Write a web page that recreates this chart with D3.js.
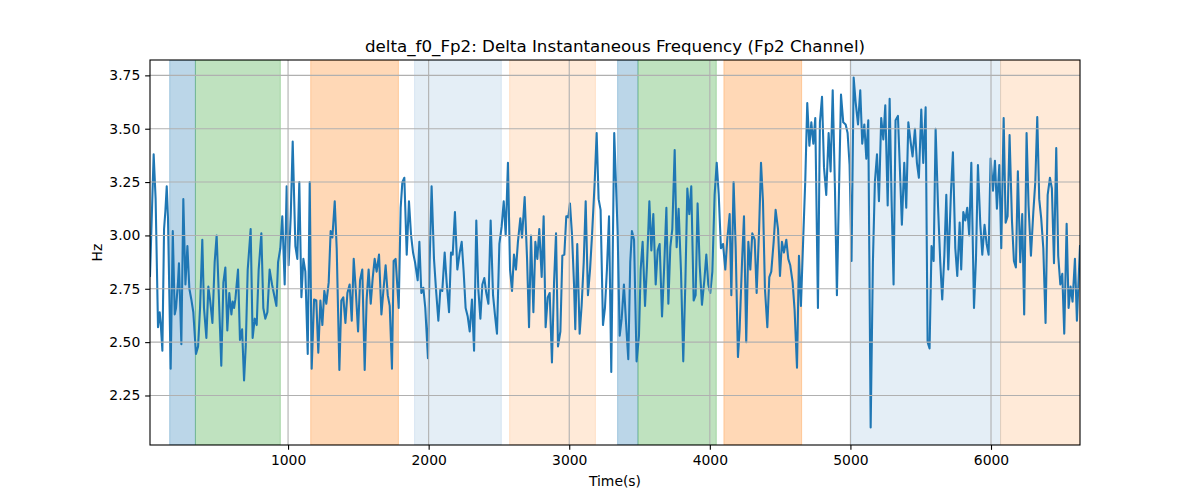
<!DOCTYPE html>
<html>
<head>
<meta charset="utf-8">
<script src="https://cdn.jsdelivr.net/npm/d3@7"></script>
<style>
  html, body { margin: 0; padding: 0; background: #fff; }
  svg { display: block; font-family: "DejaVu Sans", sans-serif; }
</style>
</head>
<body>
<svg id="chart" width="1200" height="500"></svg>
<script>
// ---- data ----
const titleText = "delta_f0_Fp2: Delta Instantaneous Frequency (Fp2 Channel)";
const xLabel = "Time(s)";
const yLabel = "Hz";
const xTicks = [1000, 2000, 3000, 4000, 5000, 6000];
const yTicks = [2.25, 2.50, 2.75, 3.00, 3.25, 3.50, 3.75];

const times = [
  18,44,58,75,87,94,106,118,127,137,146,165,180,194,203,217,224,241,255,270,284,298,312,326,345,360,374,390,402,419,433,445,462,478,492,507,525,540,554,568,582,597,606,616,625,644,658,673,687,699,713,734,748,763,777,791,810,824,838,853,869,
  886,917,929,945,959,976,990,1004,1019,1033,1052,1066,1080,1095,1109,1123,1140,1154,1168,1185,1201,1215,1230,1244,1258,1272,1289,1303,1315,1332,1346,1365,1379,1393,1408,1422,1438,1453,1467,1481,1498,1512,1528,1545,1559,1573,1588,1602,1616,1630,1647,1664,1678,
  1694,1709,1723,1739,1751,1765,1787,1801,1813,1827,1844,1860,1875,1889,1903,1922,1934,1948,1962,1976,1995,2007,2021,2038,2052,2069,2083,2097,2114,2128,2145,2159,2171,2187,2204,2221,2235,2249,2263,2278,2292,2308,2323,2339,2353,2368,2382,2396,2410,2425,2441,2458,2472,2486,2503,
  2519,2534,2548,2564,2579,2593,2607,2621,2635,2652,2664,2683,2700,2714,2728,2745,2759,2773,2787,2804,2818,2832,2847,2861,2877,2892,2906,2920,2937,2951,2965,2979,2993,3005,3020,3034,3043,3057,3074,3088,3103,3117,3133,3148,3162,3181,3195,3209,3223,3240,3254,3268,3283,3299,3320,
  3344,3359,3373,3389,3404,3420,3434,3446,3461,3479,3496,3508,3522,3539,3553,3570,3584,3598,3615,3629,3643,3660,3674,3691,3705,3719,3733,3750,3764,3778,3795,3811,3826,3840,3854,3868,3885,3899,3913,3928,3944,3961,3975,3989,4003,4018,4034,4049,4063,4079,4094,4110,4124,4141,
  4153,4169,4184,4200,4212,4229,4243,4259,4274,4288,4302,4319,4333,4350,4364,4378,4392,4409,4423,4437,4454,4468,4485,4499,4513,4527,4544,4558,4572,4589,4603,4620,4634,4648,4665,4679,4693,4708,4722,4736,4750,4769,4783,4798,4812,4828,4845,4859,4874,4890,4904,4919,4933,4949,
  4966,4980,4994,5008,5023,5037,5054,5070,5084,5099,5113,5127,5144,5160,5174,5189,5203,5219,5234,5248,5265,5279,5293,5307,5321,5338,5352,5366,5383,5397,5412,5428,5442,5459,5473,5487,5504,5518,5535,5549,5563,5577,5592,5606,5623,5639,5653,5668,5682,5696,5715,5729,5746,5760,5777,
  5788,5803,5817,5831,5845,5860,5879,5893,5907,5924,5938,5954,5969,5983,5997,6014,6028,6042,6059,6073,6090,6104,6118,6132,6149,6163,6177,6191,6208,6222,6236,6253,6267,6284,6301,6315,6329,6343,6357,6372,6388,6403,6419,6433,6448,6464,6478,6493,6507,6521,6538,6552,6566,6580,6597,6611,6633
];

const values = [
  2.81,3.38,3.17,2.57,2.64,2.59,2.46,3.03,3.11,3.23,3.08,2.375,3.02,2.63,2.66,2.78,2.87,2.49,3.17,2.77,2.95,2.75,2.70,2.64,2.445,2.48,2.66,2.98,2.66,2.52,2.76,2.70,2.59,2.875,3.00,2.73,2.39,2.78,2.85,2.555,2.73,2.63,2.69,2.66,2.70,2.84,2.51,2.56,2.32,2.48,2.84,3.03,2.52,2.61,2.58,2.84,3.01,2.66,2.61,2.64,2.84,
  2.77,2.67,2.875,2.94,3.09,2.77,3.23,2.86,3.09,3.44,2.95,2.89,3.25,2.71,2.89,2.83,2.445,3.25,2.375,2.70,2.695,2.45,2.695,2.58,2.74,2.68,2.78,3.02,2.99,3.16,2.94,2.37,2.695,2.71,2.59,2.73,2.77,2.60,2.89,2.75,2.55,2.79,2.84,2.37,2.70,2.84,2.68,2.80,2.89,2.83,2.91,2.63,2.74,
  2.86,2.72,2.67,2.375,2.88,2.89,2.66,3.13,3.25,3.27,2.91,3.16,3.00,2.92,2.875,2.79,2.97,2.73,2.755,2.66,2.425,2.875,3.23,2.89,2.75,2.60,2.745,2.74,2.92,2.78,2.64,2.92,2.91,3.11,2.84,2.92,2.97,2.83,2.66,2.62,2.55,2.70,2.46,3.07,2.75,2.61,2.77,2.80,2.73,2.68,3.07,2.72,2.625,2.54,2.96,
  3.04,3.16,3.00,3.34,2.84,2.74,2.91,2.84,2.97,3.08,2.99,3.18,2.89,2.57,3.00,2.64,2.97,2.89,3.03,2.805,3.09,2.57,2.71,2.73,2.405,2.78,3.01,2.48,2.55,2.905,2.91,3.09,3.085,3.15,3.00,2.77,2.56,2.96,2.54,2.67,2.875,3.16,2.72,2.84,3.00,3.25,3.48,3.17,3.12,2.58,2.66,2.84,3.09,2.36,3.48,
  3.02,2.53,2.61,2.77,2.59,2.42,2.875,3.02,2.98,2.41,2.53,2.84,2.97,2.67,2.86,3.16,2.93,3.10,2.77,2.93,2.96,2.62,2.83,3.13,2.68,2.945,3.03,3.40,2.945,3.125,2.83,2.41,2.78,3.22,3.10,3.23,2.695,2.72,3.15,2.86,2.675,2.79,2.91,2.77,2.73,2.83,3.19,3.34,3.195,2.94,2.96,2.84,2.98,3.10,
  2.72,3.25,2.94,2.43,2.56,2.875,3.09,2.50,2.97,2.84,3.01,2.98,2.73,3.02,3.34,3.16,2.75,2.57,2.805,2.83,2.97,3.12,3.03,2.81,2.97,2.92,2.98,2.89,2.86,2.78,2.65,2.38,2.905,2.67,3.00,3.26,3.62,3.42,3.53,3.43,3.55,2.66,3.53,3.65,3.32,3.19,3.48,3.30,3.68,3.22,2.72,3.22,3.66,3.53,
  3.52,3.48,3.33,2.88,3.74,3.625,3.52,3.68,3.43,3.52,3.36,3.54,2.10,2.875,3.25,3.38,3.16,3.55,3.45,3.61,3.14,3.64,3.16,2.77,3.54,3.56,3.31,3.05,3.34,3.13,3.53,3.44,3.37,3.50,3.34,3.27,3.59,3.34,3.60,2.50,2.47,2.95,2.88,3.50,3.14,2.875,2.70,2.905,3.19,2.84,3.20,3.39,2.94,2.81,3.06,
  2.84,3.11,3.07,3.13,3.00,3.34,2.66,2.89,3.33,3.05,2.91,3.05,2.96,2.91,3.36,3.21,3.35,3.125,3.33,2.94,3.55,3.06,3.09,3.47,3.07,2.88,2.85,3.30,2.875,3.10,2.63,3.48,3.14,2.905,3.11,3.25,3.555,3.17,3.08,2.94,2.59,3.19,3.27,3.22,2.87,3.41,2.905,2.77,2.82,2.54,3.055,2.66,2.76,2.69,2.89,2.60,2.95
];

// vertical shaded spans
const spanStarts  = [158, 341, 1161, 1900, 2576, 3344, 3489, 4100, 5006, 6068];
const spanEnds    = [341, 945, 1785, 2517, 3186, 3489, 4046, 4653, 6068, 6633];
const spanColors  = ["#1f77b4", "#2ca02c", "#ff7f0e", "#1f77b4", "#ff7f0e", "#1f77b4", "#2ca02c", "#ff7f0e", "#1f77b4", "#ff7f0e"];
const spanAlphas  = [0.3, 0.3, 0.3, 0.12, 0.16, 0.3, 0.3, 0.3, 0.12, 0.16];

// ---- layout ----
const W = 1200, H = 500;
const L = 150, R = 1080, T = 60, B = 445;
const svg = d3.select("#chart");

const yMin = d3.min(values), yMax = d3.max(values);
const pad = (yMax - yMin) * 0.05;
const x = d3.scaleLinear().domain(d3.extent(times)).range([L, R]);
const y = d3.scaleLinear().domain([yMin - pad, yMax + pad]).range([B, T]);

const clipId = "plotclip";
svg.append("defs").append("clipPath").attr("id", clipId)
  .append("rect").attr("x", L).attr("y", T).attr("width", R - L).attr("height", B - T);

const plot = svg.append("g").attr("clip-path", `url(#${clipId})`);

// spans
const spans = spanStarts.map((s, i) => ({ s, e: spanEnds[i], c: spanColors[i], a: spanAlphas[i] }));
plot.append("g").selectAll("rect").data(spans).join("rect")
  .attr("x", d => x(d.s))
  .attr("width", d => x(d.e) - x(d.s))
  .attr("y", T)
  .attr("height", B - T)
  .attr("fill", d => d.c)
  .attr("fill-opacity", d => d.a)
  .attr("stroke", d => d.c)
  .attr("stroke-opacity", d => d.a)
  .attr("stroke-width", 1);

// grid
const grid = svg.append("g");
grid.selectAll("line.gx").data(xTicks).join("line")
  .attr("x1", d => x(d)).attr("x2", d => x(d))
  .attr("y1", T).attr("y2", B)
  .attr("stroke", "#b0b0b0").attr("stroke-width", 1.1);
grid.selectAll("line.gy").data(yTicks).join("line")
  .attr("x1", L).attr("x2", R)
  .attr("y1", d => y(d)).attr("y2", d => y(d))
  .attr("stroke", "#b0b0b0").attr("stroke-width", 1.1);

// line
const pts = times.map((t, i) => [t, values[i]]);
plot.append("path")
  .datum(pts)
  .attr("fill", "none")
  .attr("stroke", "#1f77b4")
  .attr("stroke-width", 2.08)
  .attr("stroke-linejoin", "round")
  .attr("stroke-linecap", "square")
  .attr("d", d3.line().x(d => x(d[0])).y(d => y(d[1])));

// axes
const tickLen = 4.86, tickPad = 4.86;
const xAxis = svg.append("g").attr("transform", `translate(0,${B})`)
  .call(d3.axisBottom(x).tickValues(xTicks).tickFormat(d3.format("d"))
    .tickSize(tickLen).tickPadding(tickPad).tickSizeOuter(0));
const yAxis = svg.append("g").attr("transform", `translate(${L},0)`)
  .call(d3.axisLeft(y).tickValues(yTicks).tickFormat(d3.format(".2f"))
    .tickSize(tickLen).tickPadding(tickPad).tickSizeOuter(0));
[xAxis, yAxis].forEach(g => {
  g.select(".domain").remove();
  g.selectAll(".tick line").attr("stroke", "#000").attr("stroke-width", 1.1);
  g.selectAll(".tick text").attr("fill", "#000")
    .style("font-family", "'DejaVu Sans', sans-serif").style("font-size", "13.9px");
});

// spines
svg.append("rect").attr("x", L).attr("y", T).attr("width", R - L).attr("height", B - T)
  .attr("fill", "none").attr("stroke", "#000").attr("stroke-width", 1.1);

// title and labels
svg.append("text").attr("x", (L + R) / 2).attr("y", 52)
  .attr("text-anchor", "middle").style("font-size", "16.7px").attr("fill", "#000")
  .text(titleText);
svg.append("text").attr("x", (L + R) / 2).attr("y", 486)
  .attr("text-anchor", "middle").style("font-size", "13.9px").attr("fill", "#000")
  .text(xLabel);
svg.append("text").attr("transform", `translate(102,${(T + B) / 2}) rotate(-90)`)
  .attr("text-anchor", "middle").style("font-size", "13.9px").attr("fill", "#000")
  .text(yLabel);
</script>
</body>
</html>
